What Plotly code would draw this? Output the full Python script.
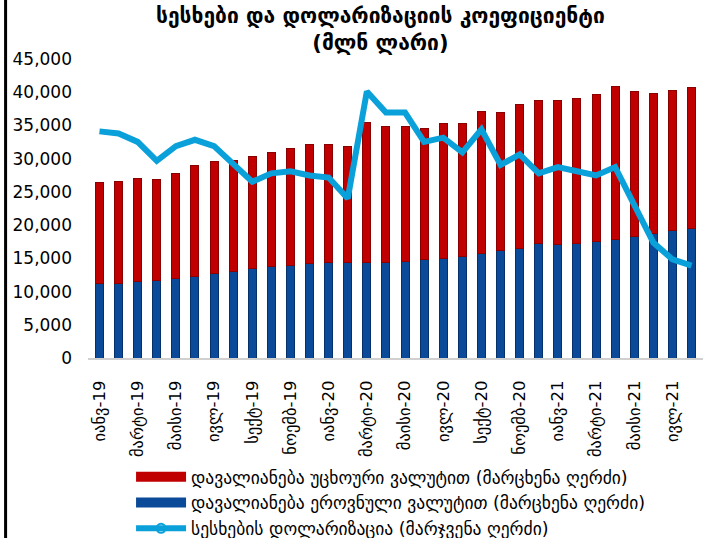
import plotly.graph_objects as go

months = ["იანვ-19","თებ-19","მარტი-19","აპრ-19","მაისი-19","ივნ-19","ივლ-19","აგვ-19",
          "სექტ-19","ოქტ-19","ნოემბ-19","დეკ-19",
          "იანვ-20","თებ-20","მარტი-20","აპრ-20","მაისი-20","ივნ-20","ივლ-20","აგვ-20",
          "სექტ-20","ოქტ-20","ნოემბ-20","დეკ-20",
          "იანვ-21","თებ-21","მარტი-21","აპრ-21","მაისი-21","ივნ-21","ივლ-21","აგვ-21"]

# national currency loans (mln GEL)
loans_gel = [11200, 11200, 11500, 11700, 11900, 12300, 12700, 13000, 13400, 13700, 13900, 14200,
             14300, 14400, 14400, 14400, 14500, 14800, 15000, 15300, 15800, 16200, 16500, 17200,
             17100, 17300, 17600, 17900, 18300, 18800, 19200, 19500]
# foreign currency loans (mln GEL)
loans_fx = [15260, 15370, 15470, 15100, 15900, 16600, 16900, 16800, 16900, 17200, 17600, 18000,
            17900, 17500, 21000, 20400, 20400, 19700, 20300, 20000, 21300, 20800, 21600, 21600,
            21700, 21700, 22100, 22900, 21800, 21000, 21000, 21200]
# loan dollarization (%), right axis
dollarization = [56.8, 56.7, 56.3, 55.4, 56.1, 56.4, 56.1, 55.2, 54.4, 54.8, 54.9, 54.7,
                 54.6, 53.6, 58.7, 57.7, 57.7, 56.3, 56.5, 55.8, 56.9, 55.2, 55.7, 54.8,
                 55.1, 54.9, 54.7, 55.1, 53.3, 51.5, 50.7, 50.4]

y_ticks = [0, 5000, 10000, 15000, 20000, 25000, 30000, 35000, 40000, 45000]

title_lines = ["სესხები და დოლარიზაციის კოეფიციენტი", "(მლნ ლარი)"]
name_fx = "დავალიანება უცხოური ვალუტით (მარცხენა ღერძი)"
name_gel = "დავალიანება ეროვნული ვალუტით (მარცხენა ღერძი)"
name_dol = "სესხების დოლარიზაცია (მარჯვენა ღერძი)"

GEO = "DejaVu Sans"
RED = "#C00000"
BLUE = "#0B4A98"
CYAN = "#0AA0DA"

fig = go.Figure()
fig.add_trace(go.Bar(
    x=months, y=loans_gel, name=name_gel, showlegend=False,
    marker=dict(color=BLUE, line=dict(color="#06306A", width=1)),
))
fig.add_trace(go.Bar(
    x=months, y=loans_fx, name=name_fx, showlegend=False,
    marker=dict(color=RED, line=dict(color="#8A0000", width=1)),
))
fig.add_trace(go.Scatter(
    x=months, y=dollarization, yaxis="y2", mode="lines", name=name_dol, showlegend=False,
    line=dict(color=CYAN, width=6),
))
# legend entries (wide swatches like the reference)
fig.add_trace(go.Scatter(x=[None], y=[None], mode="lines", name=name_fx,
                         line=dict(color=RED, width=13), legendrank=1))
fig.add_trace(go.Scatter(x=[None], y=[None], mode="lines", name=name_gel,
                         line=dict(color=BLUE, width=13), legendrank=2))
fig.add_trace(go.Scatter(x=[None], y=[None], mode="lines+markers", name=name_dol,
                         line=dict(color=CYAN, width=6),
                         marker=dict(symbol="circle-open", size=9, color=CYAN, line=dict(width=2)),
                         legendrank=3))

fig.update_layout(
    width=706, height=538,
    paper_bgcolor="white", plot_bgcolor="white",
    barmode="stack", bargap=0.58,
    margin=dict(l=88, r=3, t=59, b=180, autoexpand=False),
    xaxis=dict(
        type="category", tickmode="array", tickvals=months[::2], ticktext=months[::2],
        tickangle=-90, tickfont=dict(family=GEO, size=16.5, color="black"),
        showline=True, linecolor="#D0D0D0", linewidth=2, showgrid=False,
        ticks="", range=[-0.6, 31.6], ticklabelstandoff=14, automargin=False,
    ),
    yaxis=dict(
        range=[0, 45000], tickmode="array", tickvals=y_ticks, tickformat=",",
        tickfont=dict(family=GEO, size=17, color="black"),
        showgrid=False, zeroline=False, showline=False, ticks="", ticklabelstandoff=15,
        automargin=False,
    ),
    yaxis2=dict(
        overlaying="y", side="right", range=[46, 60.25],
        showticklabels=False, showgrid=False, zeroline=False, showline=False, ticks="",
    ),
    legend=dict(
        orientation="v", x=0.07, xanchor="left",
        yref="container", y=0.147, yanchor="top",
        font=dict(family=GEO, size=17.5, color="black"),
        bgcolor="rgba(0,0,0,0)", traceorder="normal", itemwidth=50,
    ),
    showlegend=True,
)

fig.add_annotation(
    text="<b>" + title_lines[0] + "</b><br><b>" + title_lines[1] + "</b>",
    xref="paper", yref="paper", x=0.475, y=1.19, xanchor="center", yanchor="top",
    showarrow=False, align="center",
    font=dict(family=GEO, size=21, color="black"),
)

fig.add_shape(type="line", xref="paper", yref="paper", x0=-0.134, x1=-0.134, y0=-0.61, y1=1.21,
              line=dict(color="black", width=3))

fig.write_html("out.html", config={"displayModeBar": False},
               post_script="document.body.style.margin='0';")
